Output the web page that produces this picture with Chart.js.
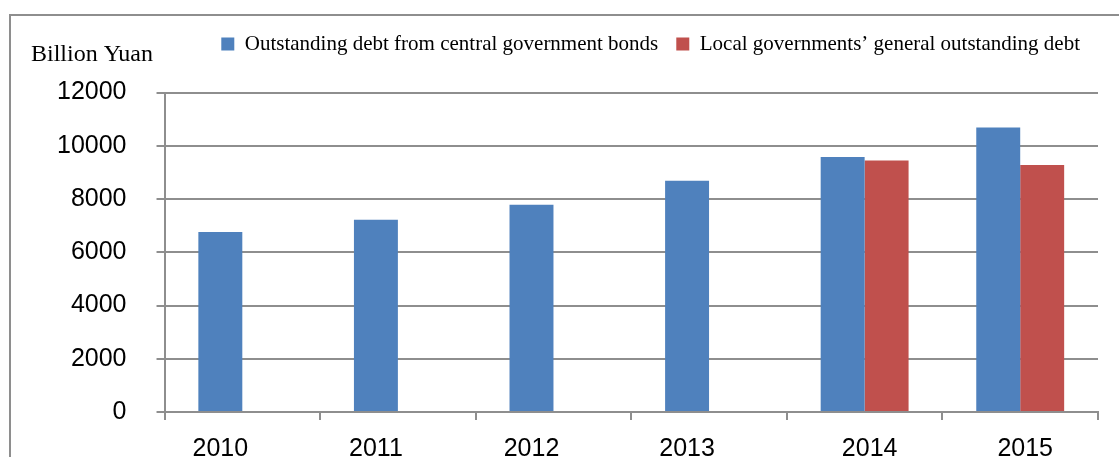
<!DOCTYPE html>
<html>
<head>
<meta charset="utf-8">
<script src="https://cdn.jsdelivr.net/npm/chart.js@4/dist/chart.umd.min.js"></script>
<style>
  html, body { margin: 0; padding: 0; background: #fff; overflow: hidden; }
  canvas { display: block; }
</style>
</head>
<body>
<canvas id="divida" width="1119" height="457"></canvas>
<script>
// anos e valores (bilhões de yuan)
var anos = ['2010', '2011', '2012', '2013', '2014', '2015'];
var dividaCentral = [6760, 7220, 7780, 8690, 9580, 10690];
var dividaLocal = [null, null, null, null, 9450, 9280];
var ticksY = [0, 2000, 4000, 6000, 8000, 10000, 12000];

var cinza = '#8e8e8e';
Chart.defaults.font.family = '"Liberation Sans", Arial, sans-serif';
Chart.defaults.color = '#000';

// moldura cinza à esquerda e em cima
var moldura = {
    id: 'moldura',
    beforeDraw: function (chart) {
        var c = chart.ctx;
        c.save();
        c.strokeStyle = cinza;
        c.lineWidth = 2;
        c.beginPath();
        c.moveTo(10, chart.height);
        c.lineTo(10, 15);
        c.lineTo(chart.width, 15);
        c.stroke();
        c.restore();
    }
};

// unidade em cima do eixo Y e anos embaixo das barras
var textos = {
    id: 'textos',
    afterDraw: function (chart) {
        var c = chart.ctx;
        var x = chart.scales.x;
        var barras = chart.getDatasetMeta(0).data;
        c.save();
        c.fillStyle = '#000';
        c.font = '24px "Liberation Serif", "Times New Roman", serif';
        c.textAlign = 'left';
        c.textBaseline = 'middle';
        c.fillText('Billion Yuan', 31, 55);

        c.font = '25px "Liberation Sans", Arial, sans-serif';
        c.textAlign = 'center';
        c.textBaseline = 'alphabetic';
        anos.forEach(function (ano, i) {
            var px = dividaLocal[i] == null ? barras[i].x : x.getPixelForValue(i) + 5;
            c.fillText(ano, px, x.bottom + 36);
        });
        c.restore();
    }
};

// espaço entre a legenda e o gráfico
var espacoLegenda = {
    id: 'espacoLegenda',
    beforeInit: function (chart) {
        var fit = chart.legend.fit;
        chart.legend.fit = function () {
            fit.call(this);
            this.height += 28;
        };
    }
};

var ctx = document.getElementById('divida').getContext('2d');
var chart = new Chart(ctx, {
    type: 'bar',
    data: {
        labels: anos,
        datasets: [{
            label: 'Outstanding debt from central government bonds',
            backgroundColor: '#4f81bd',
            data: dividaCentral
        },
        {
            label: 'Local governments\u2019 general outstanding debt',
            backgroundColor: '#c0504d',
            data: dividaLocal
        }]
    },
    options: {
        responsive: false,
        animation: false,
        categoryPercentage: 0.565,
        barPercentage: 1,
        layout: { padding: { top: 15.5, left: 27, right: 21, bottom: 36 } },
        plugins: {
            tooltip: { enabled: false },
            legend: {
                align: 'end',
                labels: {
                    boxWidth: 13,
                    boxHeight: 13,
                    padding: 18,
                    color: '#000',
                    font: { family: '"Liberation Serif", "Times New Roman", serif', size: 21 }
                }
            }
        },
        scales: {
            x: {
                ticks: { display: false },
                grid: { drawOnChartArea: false, color: cinza, lineWidth: 2, tickLength: 8 },
                border: { color: cinza, width: 2 }
            },
            y: {
                min: 0,
                max: 12000,
                afterBuildTicks: function (axis) {
                    axis.ticks = ticksY.map(function (v) { return { value: v }; });
                },
                ticks: {
                    padding: 30,
                    font: { size: 25 },
                    color: '#000',
                    callback: function (v) { return String(v); }
                },
                grid: { color: cinza, lineWidth: 2, tickLength: 8 },
                border: { color: cinza, width: 2 }
            }
        }
    },
    plugins: [moldura, textos, espacoLegenda]
});
</script>
</body>
</html>
